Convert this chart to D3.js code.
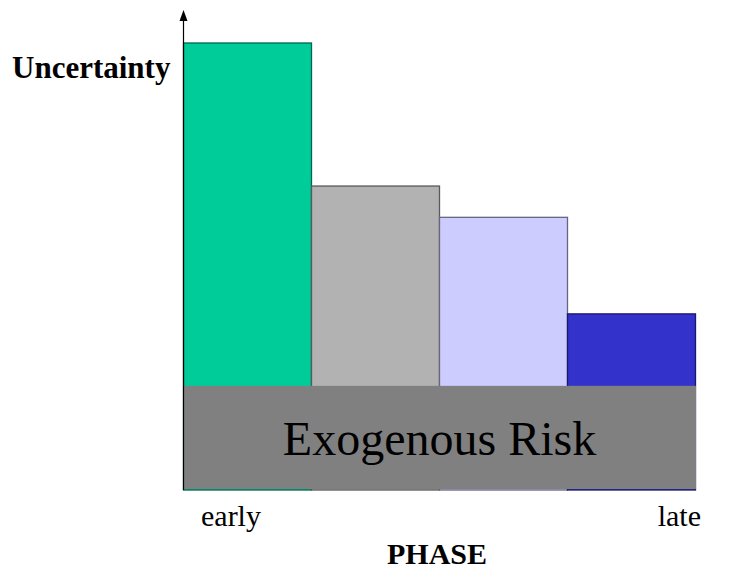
<!DOCTYPE html>
<html>
<head>
<meta charset="utf-8">
<script src="https://cdn.jsdelivr.net/npm/d3@7"></script>
<style>
  html, body { margin: 0; padding: 0; background: #fff; }
  svg { display: block; }
  text { font-family: "Liberation Serif", "Times New Roman", serif; fill: #000; }
</style>
</head>
<body>
<svg id="chart" width="732" height="569"></svg>
<script>
// Project phases, early to late
const phases = ["early-1", "early-2", "late-1", "late-2"];
// Uncertainty level in each phase (relative units)
const uncertainty = [100, 68, 61, 39.4];
// Constant exogenous risk floor
const exogenousRisk = 23.3;
const phaseFill = ["#00CC99", "#B2B2B2", "#CCCCFF", "#3333CC"];
const phaseStroke = ["#00664D", "#595959", "#66667F", "#1A1A66"];
const phaseEnds = ["early", "late"];

const svg = d3.select("#chart");

const x = d3.scaleBand().domain(phases).range([183.5, 695.5]).padding(0);
const y = d3.scaleLinear().domain([0, 100]).range([490, 43]);

// Uncertainty bars
svg.append("g").selectAll("rect")
  .data(phases)
  .join("rect")
  .attr("x", d => x(d))
  .attr("width", x.bandwidth())
  .attr("y", (d, i) => y(uncertainty[i]))
  .attr("height", (d, i) => y(0) - y(uncertainty[i]))
  .attr("fill", (d, i) => phaseFill[i])
  .attr("stroke", (d, i) => phaseStroke[i])
  .attr("stroke-width", 1.3);

// Exogenous risk band laid over the bottom of all bars
const [x0, x1] = x.range();
svg.append("rect")
  .attr("x", x0 - 0.5)
  .attr("width", x1 - x0 + 1)
  .attr("y", y(exogenousRisk))
  .attr("height", y(0) - 1 - y(exogenousRisk))
  .attr("fill", "#808080");

svg.append("text")
  .attr("x", (x0 + x1) / 2)
  .attr("y", 455)
  .attr("text-anchor", "middle")
  .style("font-size", "48px")
  .text("Exogenous Risk");

// Vertical axis with arrowhead
svg.append("line")
  .attr("x1", x0).attr("x2", x0)
  .attr("y1", y(0)).attr("y2", 18)
  .attr("stroke", "#000").attr("stroke-width", 1.2);
svg.append("path")
  .attr("d", `M${x0},10 L${x0 - 4},21 L${x0 + 4},21 Z`)
  .attr("fill", "#000");

svg.append("text")
  .attr("x", 12)
  .attr("y", 78)
  .style("font-size", "31px")
  .style("font-weight", "bold")
  .text("Uncertainty");

// Horizontal axis labels
svg.append("text")
  .attr("x", 201).attr("y", 526)
  .style("font-size", "30px")
  .text(phaseEnds[0]);
svg.append("text")
  .attr("x", 701).attr("y", 526)
  .attr("text-anchor", "end")
  .style("font-size", "30px")
  .text(phaseEnds[1]);
svg.append("text")
  .attr("x", 437).attr("y", 564)
  .attr("text-anchor", "middle")
  .style("font-size", "30px")
  .style("font-weight", "bold")
  .text("PHASE");
</script>
</body>
</html>
